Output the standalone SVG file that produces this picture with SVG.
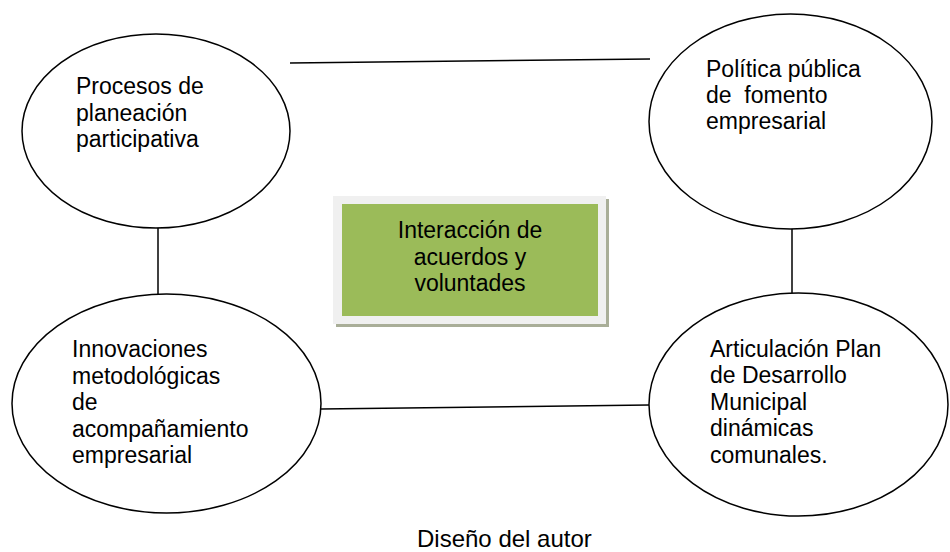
<svg xmlns="http://www.w3.org/2000/svg" width="950" height="552" viewBox="0 0 950 552">
<style>
.node{fill:#ffffff;stroke:#000000;stroke-width:1.5}
.conn{stroke:#000000;stroke-width:1.5;fill:none}
text{font-family:"Liberation Sans",Arial,sans-serif;font-size:23px;fill:#000000}
</style>
<rect x="0" y="0" width="950" height="552" fill="#ffffff"/>
<g id="connectors">
<line class="conn" x1="290" y1="63" x2="650" y2="59"/>
<line class="conn" x1="321" y1="409" x2="649" y2="405"/>
<line class="conn" x1="158" y1="228" x2="158" y2="294"/>
<line class="conn" x1="792" y1="227" x2="792" y2="293"/>
</g>
<g id="node-procesos">
<ellipse class="node" cx="156" cy="131" rx="134" ry="97"/>
<text x="76" y="94">Procesos de</text>
<text x="76" y="120.5">planeación</text>
<text x="76" y="147">participativa</text>
</g>
<g id="node-politica">
<ellipse class="node" cx="790.5" cy="121.5" rx="141.5" ry="107.5"/>
<text x="706" y="77" xml:space="preserve">Política pública</text>
<text x="706" y="103" xml:space="preserve">de  fomento</text>
<text x="706" y="129">empresarial</text>
</g>
<g id="node-innovaciones">
<ellipse class="node" cx="166.5" cy="403.5" rx="154.5" ry="109.5"/>
<text x="72" y="357">Innovaciones</text>
<text x="72" y="383.5">metodológicas</text>
<text x="72" y="410">de</text>
<text x="72" y="436.5">acompañamiento</text>
<text x="72" y="463">empresarial</text>
</g>
<g id="node-articulacion">
<ellipse class="node" cx="798.5" cy="404.5" rx="149.5" ry="111.5"/>
<text x="710" y="356.5">Articulación Plan</text>
<text x="710" y="383">de Desarrollo</text>
<text x="710" y="409.5">Municipal</text>
<text x="710" y="436">dinámicas</text>
<text x="710" y="462.5">comunales.</text>
</g>
<g id="node-interaccion">
<rect x="336" y="199" width="273" height="128" fill="#a9ae98"/>
<rect x="333" y="196" width="273" height="128" fill="#f0f0f0"/>
<rect x="342" y="204" width="256" height="112" fill="#9bbb59"/>
<text x="470" y="238" text-anchor="middle">Interacción de</text>
<text x="470" y="264.5" text-anchor="middle">acuerdos y</text>
<text x="470" y="291" text-anchor="middle">voluntades</text>
</g>
<text x="417" y="547" style="font-size:24px">Diseño del autor</text>
</svg>
